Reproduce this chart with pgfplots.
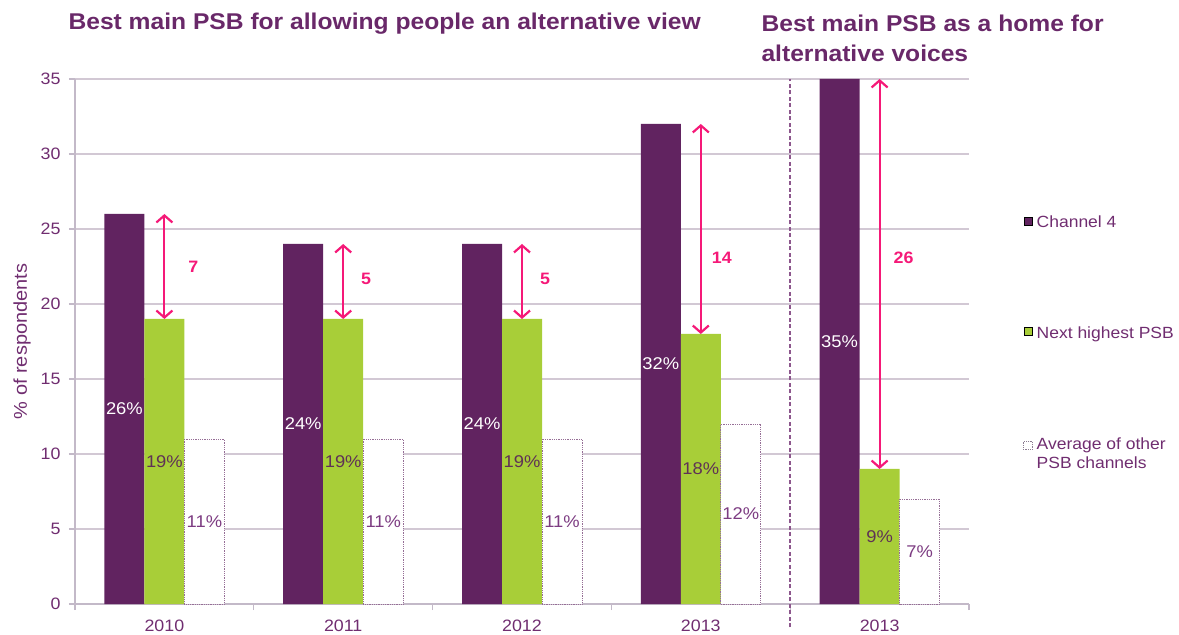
\documentclass[border=0pt]{standalone}
\usepackage{fontspec}
\setmainfont[FakeStretch=1.08]{Liberation Sans}
\usepackage{pgfplots}
\pgfplotsset{compat=1.18}
\usetikzlibrary{arrows.meta}
\definecolor{cfour}{RGB}{97,35,96}
\definecolor{nextg}{RGB}{168,206,56}
\definecolor{pinkc}{RGB}{245,25,120}
\definecolor{gridc}{RGB}{210,200,212}
\definecolor{axisc}{RGB}{195,185,200}
\definecolor{purtext}{RGB}{112,45,112}
\definecolor{titlec}{RGB}{105,40,105}
\definecolor{greentext}{RGB}{95,50,85}
\definecolor{whitetext}{RGB}{125,60,130}
\definecolor{dotc}{RGB}{150,110,150}
\definecolor{legsq}{RGB}{140,125,145}
\pgfplotsset{sqlegend/.style={legend image code/.code={\draw[##1] (0pt,-2pt) rectangle (8pt,6pt);}},
  sqlegendw/.style={legend image code/.code={\draw[fill=white, draw=legsq, line width=0.9pt] (0pt,-5.5pt) rectangle (8.5pt,3pt);}}}
\begin{document}
\begin{tikzpicture}[x=1pt,y=1pt]
\path[use as bounding box] (-75,-31) rectangle (1104,604);
\begin{axis}[
  at={(0,0)}, anchor=south west,
  scale only axis, width=894pt, height=525pt,
  ybar=0pt, bar width=40pt,
  xmin=-0.5, xmax=4.5, ymin=0, ymax=35,
  clip=false,
  axis lines*=left,
  axis line style={axisc, line width=1.3pt},
  xtick={-0.5,0.5,1.5,2.5,3.5,4.5}, xticklabels={},
  extra x ticks={0,1,2,3,4},
  extra x tick labels={2010,2011,2012,2013,2013},
  extra x tick style={major tick length=0pt, xticklabel style={yshift=-12pt}},
  ytick={0,5,...,35},
  tick align=outside, major tick length=6pt,
  tick style={axisc, line width=1.2pt},
  ymajorgrids, grid style={gridc, line width=1.3pt},
  tick label style={font=\fontsize{16.5}{18}\selectfont, text=purtext},
  yticklabel style={xshift=-5pt},
  /pgf/number format/assume math mode=true,
  every axis y label/.style={at={(axis description cs:-0.0593,0.5)}, rotate=90, anchor=center},
  ylabel={\% of respondents},
  ylabel style={font=\fontsize{18.5}{20}\selectfont, text=purtext},
  legend style={at={(axis description cs:1.0605,0.743)}, anchor=north west, draw=none, fill=none,
    font=\fontsize{16.2}{19}\selectfont, text=purtext, row sep=93pt, inner sep=0pt,
    nodes={inner xsep=4pt}},
  legend cell align=left,
]
\addplot[fill=cfour, draw=none, sqlegend] coordinates {(0,26)(1,24)(2,24)(3,32)(4,35)};
\addplot[fill=nextg, draw=none, sqlegend] coordinates {(0,19)(1,19)(2,19)(3,18)(4,9)};
\addplot[fill=white, draw=dotc, densely dotted, line width=0.8pt, sqlegendw] coordinates {(0,11)(1,11)(2,11)(3,12)(4,7)};
\legend{Channel 4, Next highest PSB, {\begin{tabular}[t]{@{}l@{}}Average of other\\PSB channels\end{tabular}}}

% value labels
\begin{scope}[every node/.style={font=\fontsize{17}{19}\selectfont, anchor=center, inner sep=0pt}]
\node[text=white, xshift=-40pt] at (axis cs:0,13) {26\%};
\node[text=white, xshift=-40pt] at (axis cs:1,12) {24\%};
\node[text=white, xshift=-40pt] at (axis cs:2,12) {24\%};
\node[text=white, xshift=-40pt] at (axis cs:3,16) {32\%};
\node[text=white, xshift=-40pt] at (axis cs:4,17.5) {35\%};
\node[text=greentext] at (axis cs:0,9.5) {19\%};
\node[text=greentext] at (axis cs:1,9.5) {19\%};
\node[text=greentext] at (axis cs:2,9.5) {19\%};
\node[text=greentext] at (axis cs:3,9) {18\%};
\node[text=greentext] at (axis cs:4,4.5) {9\%};
\node[text=whitetext, xshift=40pt] at (axis cs:0,5.5) {11\%};
\node[text=whitetext, xshift=40pt] at (axis cs:1,5.5) {11\%};
\node[text=whitetext, xshift=40pt] at (axis cs:2,5.5) {11\%};
\node[text=whitetext, xshift=40pt] at (axis cs:3,6) {12\%};
\node[text=whitetext, xshift=40pt] at (axis cs:4,3.5) {7\%};
\end{scope}

% arrows
\begin{scope}[pinkc, line width=2.2pt, {Straight Barb[length=7pt,width=16pt]}-{Straight Barb[length=7pt,width=16pt]}]
\draw (axis cs:0,26) -- (axis cs:0,19);
\draw (axis cs:1,24) -- (axis cs:1,19);
\draw (axis cs:2,24) -- (axis cs:2,19);
\draw (axis cs:3,32) -- (axis cs:3,18);
\draw (axis cs:4,35) -- (axis cs:4,9);
\end{scope}
\begin{scope}[every node/.style={text=pinkc, font=\fontsize{16.5}{18}\selectfont\bfseries, anchor=center}]
\node[xshift=29pt] at (axis cs:0,22.5) {7};
\node[xshift=23pt] at (axis cs:1,21.7) {5};
\node[xshift=23pt] at (axis cs:2,21.7) {5};
\node[xshift=21pt] at (axis cs:3,23.1) {14};
\node[xshift=24pt] at (axis cs:4,23.1) {26};
\end{scope}

% separator
\draw[purtext!80, line width=2pt, dash pattern=on 4pt off 2.5pt] (axis cs:3.5,-1.55) -- (axis cs:3.5,35);
\end{axis}
\node[anchor=base west, text=titlec, font=\fontsize{22.8}{26}\selectfont\bfseries] at (-10,574) {Best main PSB for allowing people an alternative view};
\node[anchor=base west, text=titlec, font=\fontsize{22.8}{26}\selectfont\bfseries] at (683,572) {Best main PSB as a home for};
\node[anchor=base west, text=titlec, font=\fontsize{22.8}{26}\selectfont\bfseries] at (683,542) {alternative voices};
\end{tikzpicture}
\end{document}
